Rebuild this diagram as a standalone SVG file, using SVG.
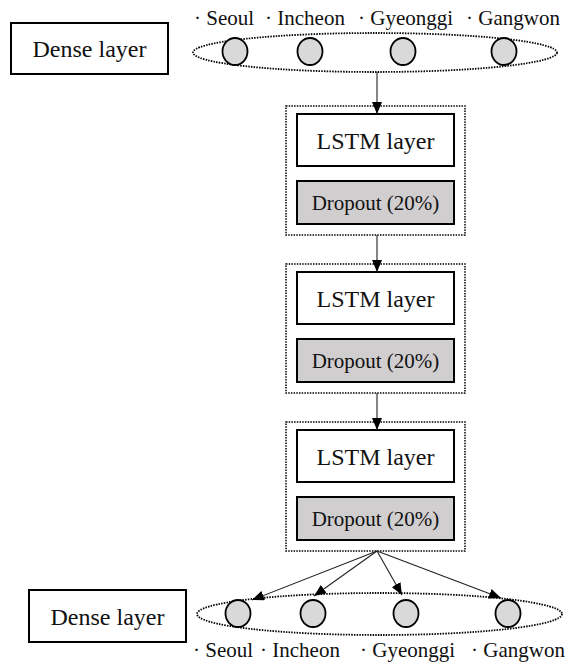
<svg xmlns="http://www.w3.org/2000/svg" width="567" height="662" viewBox="0 0 567 662">
  <style>
    .box { fill: #ffffff; stroke: #000000; stroke-width: 2; }
    .drop { fill: #d0cece; stroke: #000000; stroke-width: 2; }
    .group { fill: none; stroke: #000000; stroke-width: 1.5; stroke-dasharray: 1.5 1.2; }
    .ring { fill: none; stroke: #000000; stroke-width: 1.8; stroke-dasharray: 1.5 1.2; }
    .unit { fill: #d9d9d9; stroke: #000000; stroke-width: 1.8; }
    .edge { fill: none; stroke: #222222; stroke-width: 1.1; marker-end: url(#head); }
    text { font-family: "Liberation Serif", "Times New Roman", serif; fill: #111111; }
    .big { font-size: 24px; }
    .mid { font-size: 21px; }
    .lab { font-size: 21px; }
  </style>
  <defs>
    <marker id="head" viewBox="0 0 12 10" refX="12" refY="5" markerWidth="12" markerHeight="10" markerUnits="userSpaceOnUse" orient="auto">
      <path d="M0,0 L12,5 L0,10 Z" fill="#000000"/>
    </marker>
  </defs>

  <!-- input dense layer -->
  <g id="dense-in">
    <rect class="box" x="11" y="23" width="157" height="51"/>
    <text class="big" x="89.5" y="57" text-anchor="middle">Dense layer</text>
    <ellipse class="ring" cx="375" cy="52.5" rx="182" ry="19.5"/>
    <ellipse class="unit" cx="235" cy="51.5" rx="12.5" ry="13.5"/>
    <ellipse class="unit" cx="310" cy="51.5" rx="12.5" ry="13.5"/>
    <ellipse class="unit" cx="403" cy="51.5" rx="12.5" ry="13.5"/>
    <ellipse class="unit" cx="504" cy="51.5" rx="12.5" ry="13.5"/>
    <text class="lab" x="194" y="25">· Seoul</text>
    <text class="lab" x="265" y="25">· Incheon</text>
    <text class="lab" x="358" y="25">· Gyeonggi</text>
    <text class="lab" x="466" y="25">· Gangwon</text>
  </g>

  <!-- LSTM blocks -->
  <g id="lstm-1">
    <rect class="group" x="286" y="106" width="179" height="129"/>
    <rect class="box" x="297" y="114" width="157" height="52"/>
    <text class="big" x="375.5" y="148.5" text-anchor="middle">LSTM layer</text>
    <rect class="drop" x="297" y="181" width="157" height="43"/>
    <text class="mid" x="375.5" y="210" text-anchor="middle">Dropout (20%)</text>
  </g>
  <g id="lstm-2">
    <rect class="group" x="286" y="264" width="179" height="129"/>
    <rect class="box" x="297" y="272" width="157" height="52"/>
    <text class="big" x="375.5" y="306.5" text-anchor="middle">LSTM layer</text>
    <rect class="drop" x="297" y="339" width="157" height="43"/>
    <text class="mid" x="375.5" y="368" text-anchor="middle">Dropout (20%)</text>
  </g>
  <g id="lstm-3">
    <rect class="group" x="286" y="422" width="179" height="129"/>
    <rect class="box" x="297" y="430" width="157" height="52"/>
    <text class="big" x="375.5" y="464.5" text-anchor="middle">LSTM layer</text>
    <rect class="drop" x="297" y="497" width="157" height="43"/>
    <text class="mid" x="375.5" y="526" text-anchor="middle">Dropout (20%)</text>
  </g>

  <!-- output dense layer -->
  <g id="dense-out">
    <rect class="box" x="29" y="590" width="157" height="52"/>
    <text class="big" x="107.5" y="624.5" text-anchor="middle">Dense layer</text>
    <ellipse class="ring" cx="379.5" cy="614" rx="182.5" ry="21"/>
    <ellipse class="unit" cx="238" cy="613.5" rx="12.5" ry="13.5"/>
    <ellipse class="unit" cx="313" cy="613.5" rx="12.5" ry="13.5"/>
    <ellipse class="unit" cx="406" cy="613.5" rx="12.5" ry="13.5"/>
    <ellipse class="unit" cx="508" cy="613.5" rx="12.5" ry="13.5"/>
    <text class="lab" x="193" y="657">· Seoul</text>
    <text class="lab" x="260" y="657">· Incheon</text>
    <text class="lab" x="360" y="657">· Gyeonggi</text>
    <text class="lab" x="471" y="657">· Gangwon</text>
  </g>

  <!-- connectors -->
  <g id="connectors">
    <line class="edge" x1="377" y1="72" x2="377" y2="114"/>
    <line class="edge" x1="377" y1="235" x2="377" y2="272"/>
    <line class="edge" x1="377" y1="393" x2="377" y2="430"/>
    <line class="edge" x1="377" y1="551" x2="252" y2="600"/>
    <line class="edge" x1="377" y1="551" x2="314" y2="596"/>
    <line class="edge" x1="377" y1="551" x2="402" y2="595"/>
    <line class="edge" x1="377" y1="551" x2="501" y2="598"/>
  </g>
</svg>
